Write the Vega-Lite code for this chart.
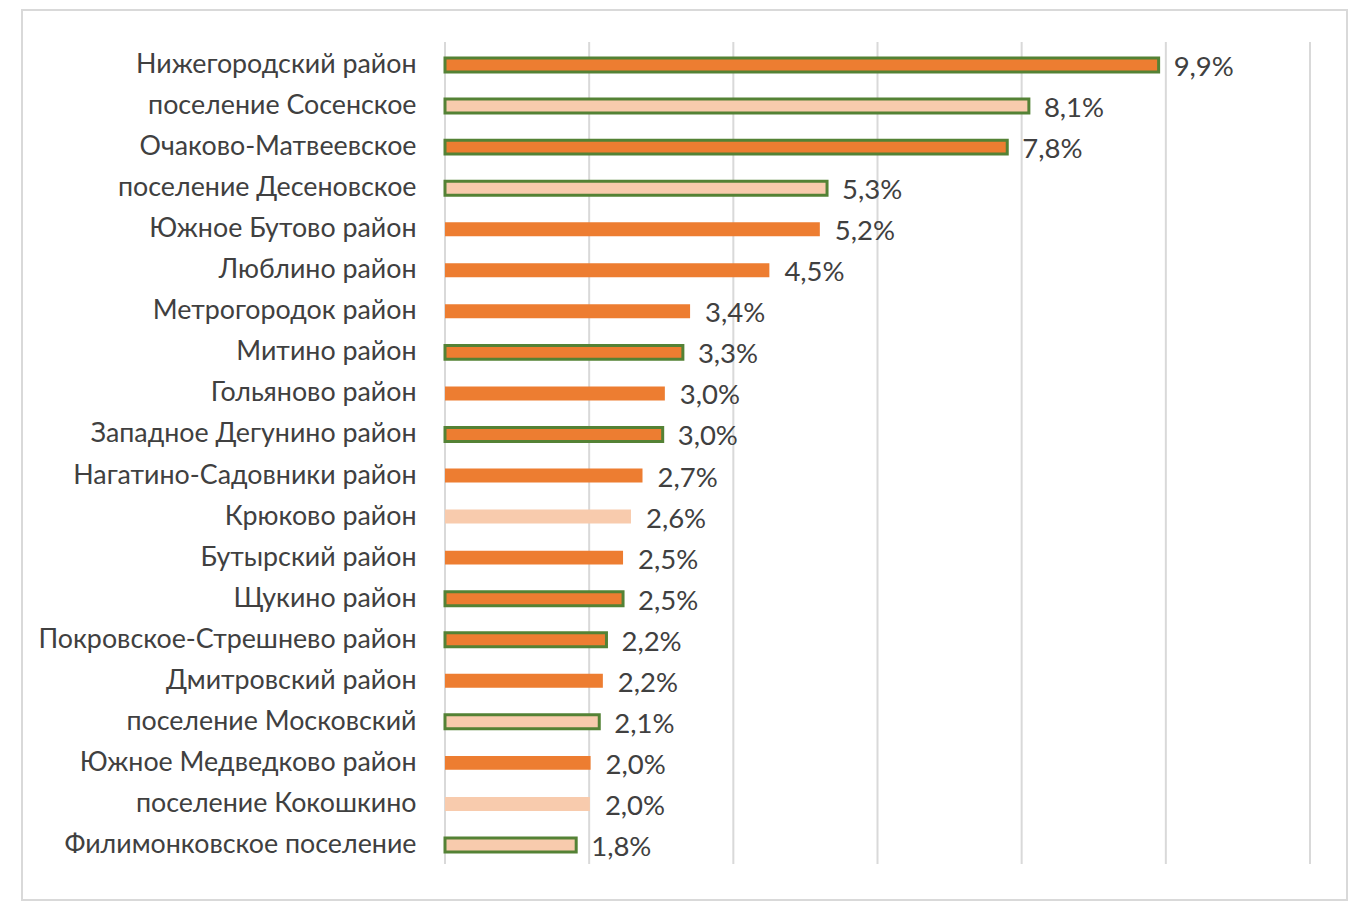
{
  "$schema": "https://vega.github.io/schema/vega-lite/v6.json",
  "width": 1325,
  "height": 890,
  "autosize": {"type": "none"},
  "padding": {"left": 22, "top": 10, "right": 13, "bottom": 8},
  "background": "white",
  "config": {"view": {"stroke": "#d9d9d9", "strokeWidth": 2}},
  "datasets": {
    "bars": [
      {"district": "Нижегородский район", "value": 9.9, "label": "9,9%", "kind": "dark", "outline": "yes"},
      {"district": "поселение Сосенское", "value": 8.1, "label": "8,1%", "kind": "light", "outline": "yes"},
      {"district": "Очаково-Матвеевское", "value": 7.8, "label": "7,8%", "kind": "dark", "outline": "yes"},
      {"district": "поселение Десеновское", "value": 5.3, "label": "5,3%", "kind": "light", "outline": "yes"},
      {"district": "Южное Бутово район", "value": 5.2, "label": "5,2%", "kind": "dark", "outline": "no"},
      {"district": "Люблино район", "value": 4.5, "label": "4,5%", "kind": "dark", "outline": "no"},
      {"district": "Метрогородок район", "value": 3.4, "label": "3,4%", "kind": "dark", "outline": "no"},
      {"district": "Митино район", "value": 3.3, "label": "3,3%", "kind": "dark", "outline": "yes"},
      {"district": "Гольяново район", "value": 3.05, "label": "3,0%", "kind": "dark", "outline": "no"},
      {"district": "Западное Дегунино район", "value": 3.02, "label": "3,0%", "kind": "dark", "outline": "yes"},
      {"district": "Нагатино-Садовники район", "value": 2.74, "label": "2,7%", "kind": "dark", "outline": "no"},
      {"district": "Крюково район", "value": 2.58, "label": "2,6%", "kind": "light", "outline": "no"},
      {"district": "Бутырский район", "value": 2.47, "label": "2,5%", "kind": "dark", "outline": "no"},
      {"district": "Щукино район", "value": 2.47, "label": "2,5%", "kind": "dark", "outline": "yes"},
      {"district": "Покровское-Стрешнево район", "value": 2.24, "label": "2,2%", "kind": "dark", "outline": "yes"},
      {"district": "Дмитровский район", "value": 2.19, "label": "2,2%", "kind": "dark", "outline": "no"},
      {"district": "поселение Московский", "value": 2.14, "label": "2,1%", "kind": "light", "outline": "yes"},
      {"district": "Южное Медведково район", "value": 2.02, "label": "2,0%", "kind": "dark", "outline": "no"},
      {"district": "поселение Кокошкино", "value": 2.01, "label": "2,0%", "kind": "light", "outline": "no"},
      {"district": "Филимонковское поселение", "value": 1.82, "label": "1,8%", "kind": "light", "outline": "yes"}
    ],
    "grid": [
      {"tick": 0}, {"tick": 2}, {"tick": 4}, {"tick": 6}, {"tick": 8}, {"tick": 10}, {"tick": 12}
    ]
  },
  "layer": [
    {
      "data": {"name": "grid"},
      "mark": {"type": "rule", "color": "#d9d9d9", "strokeWidth": 2},
      "encoding": {
        "x": {"field": "tick", "type": "quantitative", "scale": {"domain": [0, 12], "range": [423, 1288]}, "axis": null},
        "y": {"datum": 0, "type": "quantitative", "scale": {"domain": [0, 1], "range": [32, 854]}, "axis": null},
        "y2": {"datum": 1}
      }
    },
    {
      "data": {"name": "bars"},
      "layer": [
        {
          "mark": {"type": "bar", "strokeWidth": 3},
          "encoding": {
            "y": {
              "field": "district", "type": "nominal", "sort": null,
              "scale": {"range": [34.5, 855.5], "paddingInner": 0.66, "paddingOuter": 0.33},
              "axis": {"title": null, "domain": false, "ticks": false, "labelPadding": 0, "offset": -394,
                       "labelFontSize": 26.8, "labelFont": "Lato", "labelColor": "#404040", "labelLimit": 600}
            },
            "x": {"field": "value", "type": "quantitative", "axis": null},
            "fill": {"field": "kind", "type": "nominal", "scale": {"domain": ["dark", "light"], "range": ["#ED7D31", "#F8CBAD"]}, "legend": null},
            "stroke": {"field": "outline", "type": "nominal", "scale": {"domain": ["yes", "no"], "range": ["#548235", "transparent"]}, "legend": null}
          }
        },
        {
          "mark": {"type": "text", "align": "left", "baseline": "middle", "dx": 15, "dy": 3, "fontSize": 27.5, "font": "Lato", "color": "#404040"},
          "encoding": {
            "y": {"field": "district", "type": "nominal", "sort": null},
            "x": {"field": "value", "type": "quantitative"},
            "text": {"field": "label"}
          }
        }
      ]
    }
  ],
  "resolve": {"scale": {"y": "independent"}, "axis": {"y": "independent"}}
}
